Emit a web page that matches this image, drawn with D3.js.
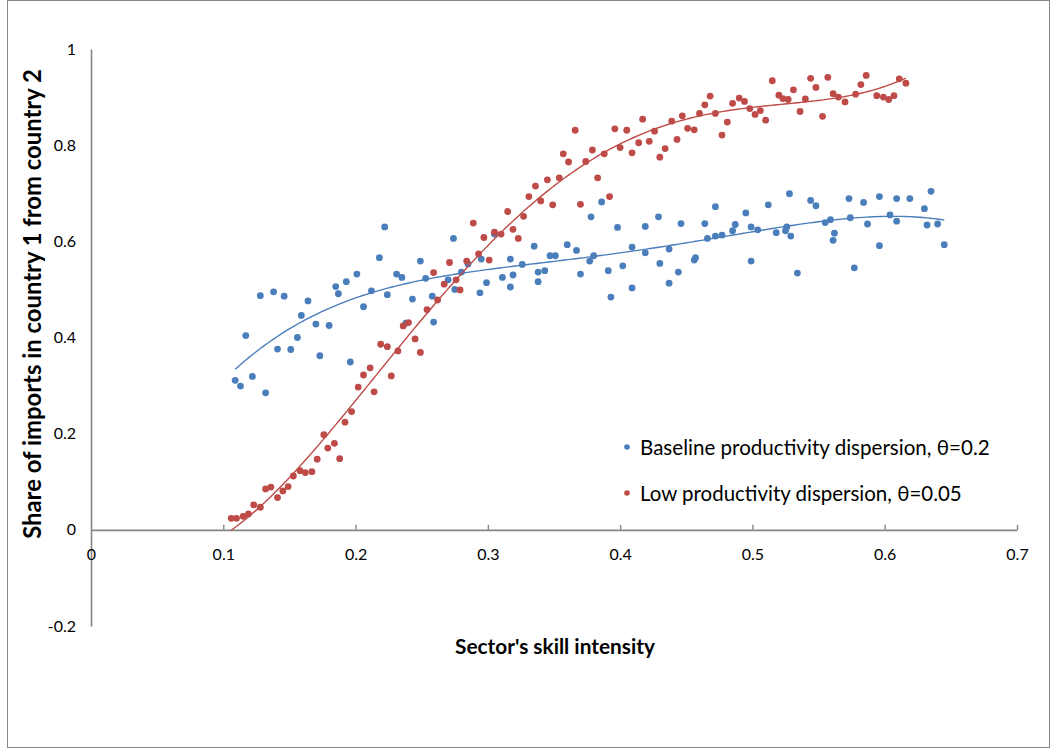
<!DOCTYPE html>
<html><head><meta charset="utf-8">
<script src="https://cdn.jsdelivr.net/npm/d3@7"></script>
<style>
body{margin:0;background:#fff}
svg{display:block}
text{font-family:Lato,'Noto Sans',sans-serif;fill:#000}
</style>
</head><body>
<svg id="c" width="1057" height="750"></svg>
<script>
const xTicks=[0,0.1,0.2,0.3,0.4,0.5,0.6,0.7];
const xTickLabels=["0","0.1","0.2","0.3","0.4","0.5","0.6","0.7"];
const yTicks=[-0.2,0,0.2,0.4,0.6,0.8,1];
const yTickLabels=["-0.2","0","0.2","0.4","0.6","0.8","1"];
const seriesNames=["Baseline productivity dispersion, \u03B8=0.2","Low productivity dispersion, \u03B8=0.05"];
const xTitle="Sector's skill intensity";
const yTitle="Share of imports in country 1 from country 2";

const baselineX=[0.109,0.113,0.117,0.122,0.128,0.132,0.138,0.141,0.146,0.151,
0.156,0.159,0.164,0.170,0.173,0.180,0.185,0.187,0.193,0.196,
0.201,0.206,0.212,0.218,0.222,0.224,0.231,0.235,0.238,0.243,
0.249,0.253,0.258,0.259,0.270,0.274,0.275,0.280,0.285,0.294,
0.295,0.299,0.305,0.311,0.317,0.317,0.319,0.326,0.335,0.338,
0.338,0.343,0.347,0.351,0.360,0.367,0.370,0.377,0.378,0.380,
0.386,0.391,0.393,0.398,0.402,0.409,0.409,0.419,0.419,0.429,
0.430,0.437,0.437,0.444,0.446,0.456,0.457,0.464,0.466,0.472,
0.472,0.477,0.485,0.487,0.495,0.499,0.499,0.504,0.512,0.518,
0.525,0.526,0.528,0.529,0.534,0.544,0.548,0.555,0.559,0.561,
0.562,0.573,0.574,0.577,0.584,0.587,0.596,0.596,0.604,0.609,
0.609,0.619,0.630,0.632,0.635,0.640,0.645];
const baselineY=[0.311,0.299,0.404,0.319,0.487,0.285,0.495,0.376,0.486,0.375,
0.400,0.446,0.476,0.428,0.362,0.425,0.506,0.491,0.516,0.349,
0.532,0.464,0.497,0.566,0.630,0.489,0.532,0.525,0.430,0.480,
0.559,0.523,0.486,0.432,0.520,0.606,0.500,0.536,0.553,0.493,
0.563,0.514,0.615,0.525,0.505,0.563,0.530,0.552,0.590,0.536,
0.516,0.539,0.570,0.570,0.593,0.581,0.532,0.559,0.651,0.570,
0.682,0.539,0.484,0.629,0.549,0.588,0.503,0.631,0.576,0.651,
0.554,0.513,0.584,0.536,0.637,0.561,0.566,0.637,0.606,0.672,
0.611,0.613,0.622,0.635,0.659,0.630,0.559,0.624,0.676,0.618,
0.622,0.630,0.699,0.611,0.534,0.685,0.674,0.639,0.645,0.602,
0.617,0.689,0.649,0.545,0.681,0.636,0.591,0.693,0.655,0.689,
0.642,0.689,0.668,0.634,0.704,0.636,0.593];

const lowX=[0.106,0.110,0.115,0.119,0.123,0.128,0.132,0.136,0.141,0.145,
0.149,0.153,0.158,0.162,0.167,0.171,0.176,0.179,0.184,0.188,
0.192,0.197,0.202,0.206,0.211,0.214,0.219,0.224,0.227,0.232,
0.236,0.240,0.245,0.249,0.254,0.259,0.262,0.267,0.271,0.276,
0.279,0.284,0.289,0.293,0.297,0.301,0.305,0.310,0.315,0.319,
0.323,0.327,0.331,0.336,0.340,0.345,0.349,0.354,0.357,0.361,
0.366,0.370,0.374,0.379,0.383,0.388,0.392,0.396,0.400,0.405,
0.409,0.414,0.417,0.422,0.426,0.430,0.434,0.439,0.443,0.447,
0.451,0.456,0.460,0.464,0.468,0.472,0.477,0.481,0.485,0.490,
0.494,0.498,0.502,0.506,0.510,0.515,0.520,0.523,0.527,0.531,
0.536,0.540,0.544,0.548,0.553,0.557,0.561,0.565,0.570,0.578,
0.582,0.586,0.594,0.599,0.603,0.607,0.611,0.616];
const lowY=[0.024,0.024,0.028,0.033,0.052,0.047,0.085,0.089,0.067,0.081,
0.090,0.112,0.123,0.119,0.121,0.147,0.198,0.170,0.180,0.148,
0.224,0.246,0.297,0.322,0.337,0.287,0.386,0.381,0.320,0.372,
0.424,0.431,0.397,0.369,0.458,0.535,0.478,0.511,0.556,0.520,
0.499,0.559,0.638,0.574,0.608,0.561,0.619,0.615,0.662,0.625,
0.606,0.652,0.693,0.715,0.684,0.728,0.676,0.732,0.782,0.765,
0.831,0.677,0.766,0.790,0.732,0.782,0.693,0.834,0.795,0.831,
0.784,0.805,0.854,0.808,0.829,0.775,0.793,0.850,0.812,0.861,
0.835,0.832,0.866,0.884,0.902,0.866,0.821,0.848,0.887,0.898,
0.891,0.876,0.864,0.872,0.852,0.934,0.904,0.897,0.895,0.915,
0.870,0.896,0.939,0.920,0.860,0.941,0.907,0.900,0.890,0.906,
0.926,0.945,0.903,0.900,0.895,0.903,0.938,0.929];

const colors=["#4A7EBB","#BE4B48"];
const trendOrder=4;

const svg=d3.select("#c");
const x=d3.scaleLinear().domain([0,0.7]).range([91,1017]);
const y=d3.scaleLinear().domain([-0.2,1]).range([626,49]);

// chart border
svg.append("rect").attr("x",7.5).attr("y",0.5).attr("width",1042).attr("height",747)
  .attr("fill","#fff").attr("stroke","#868686").attr("stroke-width",1);

// polynomial least-squares fit (Excel-style polynomial trendline)
function polyfit(xs,ys,deg){
  const n=xs.length,mx=d3.mean(xs),sx=d3.deviation(xs),m=deg+1;
  const A=Array.from({length:m},()=>new Array(m+1).fill(0));
  for(let i=0;i<n;i++){
    const t=(xs[i]-mx)/sx,p=[];
    for(let k=0;k<m;k++)p.push(Math.pow(t,k));
    for(let r=0;r<m;r++){for(let c=0;c<m;c++)A[r][c]+=p[r]*p[c];A[r][m]+=p[r]*ys[i];}
  }
  for(let col=0;col<m;col++){
    let piv=col;
    for(let r=col+1;r<m;r++)if(Math.abs(A[r][col])>Math.abs(A[piv][col]))piv=r;
    [A[col],A[piv]]=[A[piv],A[col]];
    for(let r=0;r<m;r++){if(r===col)continue;const f=A[r][col]/A[col][col];
      for(let c=col;c<=m;c++)A[r][c]-=f*A[col][c];}
  }
  const coef=A.map((row,i)=>row[m]/row[i]);
  return v=>{const t=(v-mx)/sx;let s=0;for(let k=m-1;k>=0;k--)s=s*t+coef[k];return s;};
}

// axes
const axisColor="#868686";
const xAxis=d3.axisBottom(x).tickValues(xTicks).tickFormat((d,i)=>xTickLabels[i]).tickSize(0).tickPadding(0);
const gx=svg.append("g").attr("transform",`translate(0,${y(0)})`).call(xAxis);
gx.select(".domain").attr("stroke",axisColor).attr("stroke-width",1.6);
gx.selectAll(".tick text").attr("dy",null).attr("y",30).attr("font-size",16).attr("font-family","Lato,'Noto Sans',sans-serif");
gx.selectAll(".tick").append("line").attr("y1",0).attr("y2",-5).attr("stroke",axisColor).attr("stroke-width",1.4)
  .filter(d=>d===0).remove();

const yAxis=d3.axisLeft(y).tickValues(yTicks).tickFormat((d,i)=>yTickLabels[i]).tickSize(0).tickPadding(15);
const gy=svg.append("g").attr("transform",`translate(${x(0)},0)`).call(yAxis);
gy.select(".domain").attr("stroke",axisColor).attr("stroke-width",1.6);
gy.selectAll(".tick text").attr("font-size",16).attr("font-family","Lato,'Noto Sans',sans-serif");
gx.raise();

// points
const series=[{xs:baselineX,ys:baselineY},{xs:lowX,ys:lowY}];
series.forEach((s,si)=>{
  svg.append("g").selectAll("circle").data(d3.range(s.xs.length)).join("circle")
    .attr("cx",i=>x(s.xs[i])).attr("cy",i=>y(s.ys[i])).attr("r",3.4).attr("fill",colors[si]);
});
// trendlines
series.forEach((s,si)=>{
  const f=polyfit(s.xs,s.ys,trendOrder);
  const x0=d3.min(s.xs),x1=d3.max(s.xs);
  const pts=d3.range(0,201).map(k=>x0+(x1-x0)*k/200);
  svg.append("path").datum(pts).attr("fill","none").attr("stroke",colors[si]).attr("stroke-width",1.4)
    .attr("d",d3.line().x(v=>x(v)).y(v=>y(f(v))));
});

function fitText(sel,target){
  const base=16;sel.attr("font-size",base);
  const len=sel.node().getComputedTextLength();
  const fs=base*target/len;
  sel.attr("font-size",fs);
  return fs;
}
// legend
const legY=[447,493];
seriesNames.forEach((n,i)=>{
  svg.append("circle").attr("cx",627).attr("cy",legY[i]).attr("r",2.8).attr("fill",colors[i]);
  const t=svg.append("text").attr("x",640).attr("y",legY[i]).attr("dominant-baseline","central").text(n);
  fitText(t,i===0?350:322);
});
// titles
const xt=svg.append("text").attr("x",555).attr("y",645).attr("text-anchor","middle")
  .attr("dominant-baseline","central").attr("font-weight","bold").text(xTitle);
fitText(xt,200);
const yt=svg.append("text").attr("transform","translate(31,304) rotate(-90)").attr("text-anchor","middle")
  .attr("dominant-baseline","central").attr("font-weight","bold").text(yTitle);
fitText(yt,470);
</script>
</body></html>
